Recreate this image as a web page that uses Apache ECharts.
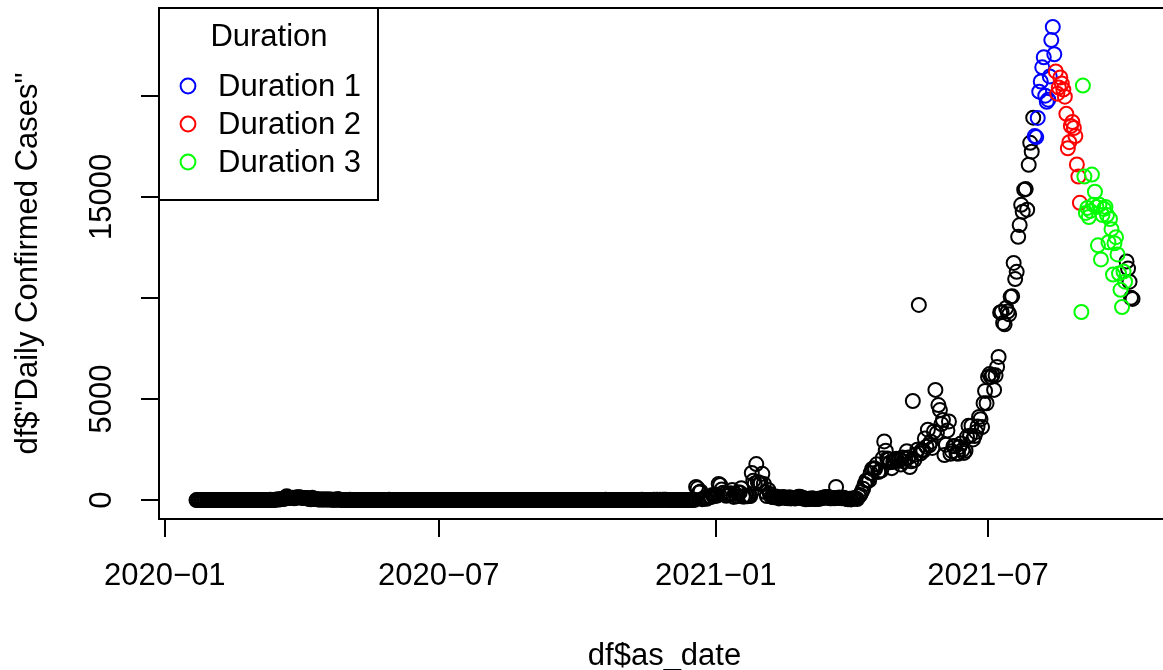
<!DOCTYPE html>
<html>
<head>
<meta charset="utf-8">
<title>Daily Confirmed Cases</title>
<script src="https://cdn.jsdelivr.net/npm/echarts@6/dist/echarts.min.js"></script>
<style>
  html, body { margin: 0; padding: 0; background: #fff; }
  #chart { width: 1163px; height: 670px; }
</style>
</head>
<body>
<div id="chart"></div>
<script>
// daily confirmed cases, one value per day starting at startDate
const startDate = '2020-01-22'
const casesJan2020 = [2, 1, 0, 2, 0, 1, 6, 0, 0, 5]
const casesFeb2020 = [0, 0, 0, 6, 0, 0, 0, 7, 0, 0, 1, 0, 0, 0, 1, 0, 0, 0, 0, 0, 0, 0, 0, 2, 0, 3, 0, 0, 2]
const casesMar2020 = [0, 0, 1, 0, 4, 0, 1, 2, 0, 3, 11, 5, 5, 7, 32, 33, 30, 35, 60, 50, 89, 188, 122, 106, 107, 111, 91, 109, 143, 136, 127]
const casesApr2020 = [120, 104, 103, 89, 102, 51, 38, 111, 54, 50, 45, 33, 28, 34, 30, 29, 28, 33, 32, 27, 19, 15, 13, 15, 53, 15, 9, 7, 9, 7]
const casesMay2020 = [6, 6, 18, 3, 1, 3, 1, 7, 0, 5, 4, 2, 7, 0, 3, 0, 3, 0, 1, 2, 6, 3, 0, 2, 2, 3, 8, 3, 11, 1, 2]
const casesJun2020 = [1, 0, 1, 0, 2, 0, 2, 0, 1, 3, 0, 0, 4, 0, 0, 0, 0, 4, 0, 0, 1, 0, 0, 0, 0, 6, 0, 0, 0, 4]
const casesJul2020 = [0, 4, 0, 3, 3, 0, 1, 5, 0, 1, 4, 2, 3, 0, 1, 0, 0, 2, 0, 5, 0, 3, 0, 2, 4, 0, 3, 0, 1, 0, 3]
const casesAug2020 = [4, 0, 2, 0, 3, 2, 8, 0, 5, 0, 1, 2, 3, 0, 5, 1, 0, 6, 0, 1, 2, 4, 0, 1, 5, 0, 1, 1, 2, 0, 2]
const casesSep2020 = [0, 7, 1, 1, 0, 3, 2, 1, 8, 4, 1, 0, 2, 7, 2, 2, 3, 0, 4, 0, 7, 0, 2, 4, 0, 1, 2, 2, 1, 8]
const casesOct2020 = [2, 2, 3, 3, 0, 3, 2, 4, 5, 9, 1, 4, 3, 2, 0, 3, 3, 6, 0, 10, 3, 6, 2, 0, 8, 2, 7, 3, 3, 1, 3]
const casesNov2020 = [4, 5, 4, 7, 5, 4, 4, 4, 6, 5, 4, 8, 10, 2, 5, 3, 9, 8, 6, 8, 12, 9, 13, 5, 13, 4, 11, 11, 14, 7]
const casesDec2020 = [9, 3, 4, 8, 2, 7, 5, 4, 8, 2, 3, 9, 5, 9, 11, 10, 4, 10, 650, 580, 380, 430, 45, 60, 110, 65, 120, 145, 155, 250, 195]
const casesJan2021 = [280, 216, 800, 745, 527, 365, 305, 212, 250, 250, 339, 500, 157, 305, 188, 369, 374, 590, 171, 178, 222, 187, 198, 198, 1340, 960, 820, 1780, 900, 800, 830]
const casesFeb2021 = [1300, 800, 400, 200, 500, 300, 170, 150, 140, 180, 140, 80, 120, 140, 150, 110, 100, 90, 140, 80, 100, 90, 80, 110, 170, 170, 90, 120]
const casesMar2021 = [60, 40, 50, 70, 50, 90, 60, 50, 50, 70, 70, 80, 100, 130, 150, 110, 150, 90, 90, 100, 90, 650, 100, 130, 100, 90, 110, 80, 60, 40, 60]
const casesApr2021 = [30, 80, 90, 80, 50, 190, 250, 400, 560, 790, 970, 990, 970, 1340, 1540, 1580, 1550, 1770, 1390, 1440, 1460, 2070, 2900, 2440, 2050, 2010, 1870, 1580, 1890, 1940]
const casesMay2021 = [2040, 1940, 2040, 1760, 2110, 1910, 2040, 2420, 2100, 1630, 1920, 4900, 1980, 2260, 2490, 9650, 2300, 2470, 2440, 3050, 2640, 3480, 2710, 2890, 2580, 3390, 5450, 3320, 4700, 4450, 3760]
const casesJun2021 = [3960, 2230, 2740, 3440, 3890, 2290, 2420, 2670, 2660, 2310, 2290, 2630, 2800, 2480, 2330, 2440, 3130, 3670, 3180, 3680, 3000, 3170, 3370, 3640, 4110, 4000, 3610, 4790, 5400, 4790]
const casesJul2021 = [6090, 6230, 6090, 6190, 5450, 6170, 6580, 7080, 9280, 9300, 8760, 8690, 9500, 9320, 9190, 10050, 10080, 11730, 10930, 11290, 13020, 13600, 14600, 14260, 15350, 15380, 14360, 16580, 17670, 17230, 18910]
const casesAug2021 = [18000, 17950, 18900, 20200, 20700, 21400, 21900, 20000, 19700, 19800, 20950, 22750, 23400, 22050, 21200, 20100, 20400, 20900, 20600, 20300, 19950, 19100, 17400, 17700, 18500, 18700, 18400, 18000, 16600, 16000, 14700]
const casesSep2021 = [9300, 20500, 16000, 14200, 14450, 14000, 14300, 16100, 14600, 15250, 14500, 12600, 14600, 11900, 14100, 14400, 14500, 14100, 12750, 13900, 13400, 11150, 12700, 13000, 12150, 11200, 10400, 9550, 11300, 10800]
const casesOct2021 = [11800, 11450, 10800, 10000, 9950]

const durationNames = ['Duration 1', 'Duration 2', 'Duration 3']
const durationFrom = ['2021-08-01', '2021-08-15', '2021-09-01']
const durationTo = ['2021-08-14', '2021-08-31', '2021-09-30']
const durationColors = ['#0000FF', '#FF0000', '#00FF00']

const xTickDates = ['2020-01-01', '2020-07-01', '2021-01-01', '2021-07-01']
const yTicks = [0, 5000, 10000, 15000, 20000]
const yTickLabels = [0, 5000, 15000]

const DAY = 86400000
const toMs = s => Date.parse(s + 'T00:00:00Z')

const cases = [].concat(
  casesJan2020, casesFeb2020, casesMar2020, casesApr2020, casesMay2020, casesJun2020,
  casesJul2020, casesAug2020, casesSep2020, casesOct2020, casesNov2020, casesDec2020,
  casesJan2021, casesFeb2021, casesMar2021, casesApr2021, casesMay2021, casesJun2021,
  casesJul2021, casesAug2021, casesSep2021, casesOct2021
)
const points = cases.map((v, i) => [toMs(startDate) + i * DAY, v])

const inDuration = (t, k) => t >= toMs(durationFrom[k]) && t <= toMs(durationTo[k])
const blackPoints = points.filter(p => !durationNames.some((n, k) => inDuration(p[0], k)))

// R style axis range: data range plus 4% on each side
const tMin = points[0][0]
const tMax = points[points.length - 1][0]
const tPad = (tMax - tMin) * 0.04
const vMax = Math.max(...cases)
const vPad = vMax * 0.04

const font = 'Liberation Sans, Arial, Helvetica, sans-serif'
const fontSize = 31

const pointStyle = color => ({
  color: 'rgba(0,0,0,0)',
  borderColor: color,
  borderWidth: 2,
  opacity: 1
})

const series = [
  {
    name: 'all',
    type: 'scatter',
    symbol: 'circle',
    symbolSize: 14,
    silent: true,
    itemStyle: pointStyle('#000000'),
    data: blackPoints
  }
].concat(durationNames.map((name, k) => ({
  name,
  type: 'scatter',
  symbol: 'circle',
  symbolSize: 14,
  silent: true,
  itemStyle: pointStyle(durationColors[k]),
  data: points.filter(p => inDuration(p[0], k))
})))

const legendRows = [86, 124, 162]
const legendGraphics = [
  {
    type: 'rect',
    shape: { x: 159, y: 8, width: 219, height: 192 },
    style: { fill: '#fff', stroke: '#000', lineWidth: 2 },
    z: 10
  },
  {
    type: 'text',
    x: 269,
    y: 37,
    style: { text: 'Duration', fill: '#000', font: fontSize + 'px ' + font, textAlign: 'center', textVerticalAlign: 'middle' },
    z: 11
  }
]
durationNames.forEach((name, k) => {
  legendGraphics.push({
    type: 'circle',
    shape: { cx: 188, cy: legendRows[k], r: 7.4 },
    style: { fill: 'none', stroke: durationColors[k], lineWidth: 2 },
    z: 11
  })
  legendGraphics.push({
    type: 'text',
    x: 218,
    y: legendRows[k] + 1,
    style: { text: name, fill: '#000', font: fontSize + 'px ' + font, textAlign: 'left', textVerticalAlign: 'middle' },
    z: 11
  })
})

const formatMonth = v => {
  const d = new Date(v)
  return d.getUTCFullYear() + '\u2212' + String(d.getUTCMonth() + 1).padStart(2, '0')
}

const option = {
  animation: false,
  backgroundColor: '#fff',
  textStyle: { fontFamily: font },
  grid: {
    show: true,
    left: 159,
    right: -7,
    top: 8,
    bottom: 151,
    containLabel: false,
    outerBoundsMode: 'none',
    borderColor: '#000',
    borderWidth: 2,
    backgroundColor: 'transparent'
  },
  xAxis: {
    type: 'value',
    min: tMin - tPad,
    max: tMax + tPad,
    scale: true,
    name: 'df$as_date',
    nameLocation: 'middle',
    nameGap: 122,
    nameTextStyle: { fontSize, color: '#000', fontFamily: font },
    axisLine: { show: false, onZero: false },
    splitLine: { show: false },
    axisTick: {
      show: true,
      length: 18,
      lineStyle: { color: '#000', width: 2 },
      customValues: xTickDates.map(toMs)
    },
    axisLabel: {
      show: true,
      fontSize,
      color: '#000',
      fontFamily: font,
      margin: 42,
      customValues: xTickDates.map(toMs),
      formatter: formatMonth
    }
  },
  yAxis: {
    type: 'value',
    min: -vPad,
    max: vMax + vPad,
    name: 'df$"Daily Confirmed Cases"',
    nameLocation: 'middle',
    nameRotate: 90,
    nameGap: 115,
    nameTextStyle: { fontSize, color: '#000', fontFamily: font },
    axisLine: { show: false, onZero: false },
    splitLine: { show: false },
    axisTick: {
      show: true,
      length: 18,
      lineStyle: { color: '#000', width: 2 },
      customValues: yTicks
    },
    axisLabel: {
      show: true,
      rotate: 90,
      fontSize,
      color: '#000',
      fontFamily: font,
      margin: 41,
      customValues: yTickLabels,
      formatter: v => String(v)
    }
  },
  graphic: legendGraphics,
  series
}

const chart = echarts.init(document.getElementById('chart'))
chart.setOption(option)
</script>
</body>
</html>
